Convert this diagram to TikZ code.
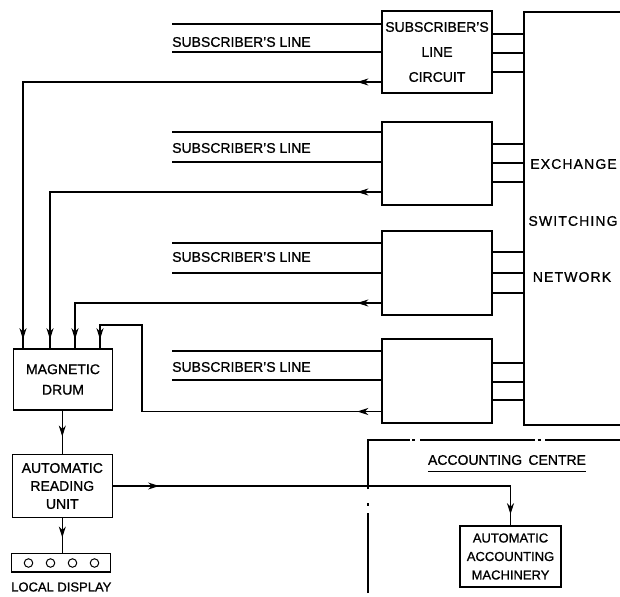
\documentclass[tikz,border=0pt]{standalone}
\usepackage{fontspec}
\setmainfont{Liberation Sans}[FakeBold=0.9]
\newfontfamily\spacedfont{Liberation Sans}[LetterSpace=8,FakeBold=0.9]
\usetikzlibrary{arrows.meta,decorations.markings}
\tikzset{
  box/.style={draw, line width=1.5pt, inner sep=0pt, align=center, font=\fontsize{14}{20}\selectfont},
  lbl/.style={inner sep=0pt, font=\fontsize{14}{17}\selectfont},
  conn/.style={line width=1.1pt},
  bound/.style={line width=1.7pt},
  marr/.style={postaction={decorate}, decoration={markings,
      mark=at position #1 with {\arrow{Stealth[length=11pt,width=7pt,inset=3.5pt]}}}},
  marrtwo/.style 2 args={postaction={decorate}, decoration={markings,
      mark=at position #1 with {\arrow{Stealth[length=11pt,width=7pt,inset=3.5pt]}},
      mark=at position #2 with {\arrow{Stealth[length=11pt,width=7pt,inset=3.5pt]}}}},
}
\begin{document}
\begin{tikzpicture}[x=1pt,y=-1pt]
\useasboundingbox (0,0) rectangle (620,596);
\clip (0,0) rectangle (620,596);

% exchange switching network
\node[draw, line width=1.5pt, inner sep=0pt, anchor=north west,
      minimum width=140pt, minimum height=412.5pt] (net) at (523,11.5) {};
\node[lbl, font=\fontsize{14}{17}\spacedfont] (ex) at (573.5,164) {EXCHANGE};
\node[lbl, font=\fontsize{14}{17}\spacedfont] (sw) at (573,221) {SWITCHING};
\node[lbl, font=\fontsize{14}{17}\spacedfont] (nw) at (572,277) {NETWORK};

% line circuits
\node[box, minimum width=110pt, minimum height=82pt, font=\fontsize{14}{25}\selectfont]
  (b1) at (437,52) {SUBSCRIBER'S\\LINE\\CIRCUIT};
\node[box, minimum width=110pt, minimum height=83pt] (b2) at (437,163.5) {};
\node[box, minimum width=110pt, minimum height=84pt] (b3) at (437,273) {};
\node[box, minimum width=110pt, minimum height=84pt] (b4) at (437,381) {};

% connections to network
\foreach \yy in {34,53,72} \draw[conn] (b1.east |- 0,\yy) -- (net.west |- 0,\yy);
\foreach \yy in {144,163,182} \draw[conn] (b2.east |- 0,\yy) -- (net.west |- 0,\yy);
\foreach \yy in {252,273,293} \draw[conn] (b3.east |- 0,\yy) -- (net.west |- 0,\yy);
\foreach \yy in {363,382,400} \draw[conn] (b4.east |- 0,\yy) -- (net.west |- 0,\yy);

% subscriber's lines
\coordinate (s1a) at (172,24);  \coordinate (s1b) at (172,52);
\coordinate (s2a) at (172,132); \coordinate (s2b) at (172,162);
\coordinate (s3a) at (172,243); \coordinate (s3b) at (172,273);
\coordinate (s4a) at (172,351); \coordinate (s4b) at (172,380);
\draw[conn] (s1a) -- (s1a -| b1.west);
\draw[conn] (s1b) -- (s1b -| b1.west);
\draw[conn] (s2a) -- (s2a -| b2.west);
\draw[conn] (s2b) -- (s2b -| b2.west);
\draw[conn] (s3a) -- (s3a -| b3.west);
\draw[conn] (s3b) -- (s3b -| b3.west);
\draw[conn] (s4a) -- (s4a -| b4.west);
\draw[conn] (s4b) -- (s4b -| b4.west);
\node[lbl, anchor=west] (t1) at (172,42) {SUBSCRIBER'S LINE};
\node[lbl, anchor=west] (t2) at (172,148) {SUBSCRIBER'S LINE};
\node[lbl, anchor=west] (t3) at (172,257) {SUBSCRIBER'S LINE};
\node[lbl, anchor=west] (t4) at (172,367) {SUBSCRIBER'S LINE};

% magnetic drum, reading unit, display
\node[box, minimum width=99.4pt, minimum height=61pt, font=\fontsize{14}{20.5}\selectfont]
  (md) at (63,379.5) {MAGNETIC\\DRUM};
\node[box, minimum width=100pt, minimum height=63.4pt, font=\fontsize{14}{18}\selectfont]
  (aru) at (62.3,486) {AUTOMATIC\\READING\\UNIT};
\node[box, minimum width=99pt, minimum height=18.5pt] (ld) at (61.2,562.5) {};
\foreach \xx/\nn in {28.5/1,50.5/2,72.5/3,94.5/4}
  \node[circle, draw, line width=1pt, inner sep=0pt, minimum size=8.5pt] (ldc\nn) at (\xx,563) {};
\node[lbl, font=\fontsize{13}{16}\selectfont] (ldt) at (61.3,587) {LOCAL DISPLAY};

% return lines to the drum
\coordinate (c1) at (23,82);
\coordinate (c2) at (50,192);
\coordinate (c3) at (75,303);
\coordinate (c4a) at (142,411.5);
\coordinate (c4b) at (100,325);
\draw[conn, marrtwo={24pt}{-9pt}] (b1.west |- c1) -- (c1) -- (c1 |- md.north);
\draw[conn, marrtwo={24pt}{-9pt}] (b2.west |- c2) -- (c2) -- (c2 |- md.north);
\draw[conn, marrtwo={24pt}{-9pt}] (b3.west |- c3) -- (c3) -- (c3 |- md.north);
\draw[conn, marrtwo={24pt}{-9pt}] (b4.west |- c4a) -- (c4a) -- (c4a |- c4b) -- (c4b) -- (c4b |- md.north);

% drum -> reading unit -> display
\draw[conn, marr={-17pt}] (aru.north |- md.south) -- (aru.north);
\draw[conn, marr={-15pt}] (aru.south) -- (aru.south |- ld.north);

% accounting centre
\node[box, minimum width=101pt, minimum height=61pt, font=\fontsize{13}{18.5}\selectfont]
  (aam) at (510.5,556.5) {AUTOMATIC\\ACCOUNTING\\MACHINERY};
\node[lbl] (acc) at (507,460) {ACCOUNTING\hspace{0.45em}CENTRE};
\draw[conn] ([yshift=-6pt]acc.south west) -- ([yshift=-6pt]acc.south east);
\draw[conn, marrtwo={46pt}{-11pt}] (aru.east) -- (aam.north |- aru.east) -- (aam.north);

% dash-dot boundary of the accounting centre
\draw[bound] (368,593) -- (368,513);
\draw[bound] (368,505.5) -- (368,502.5);
\draw[bound] (368,489) -- (368,440) -- (410,440);
\draw[bound] (412,440) -- (415,440);
\draw[bound] (420,440) -- (535,440);
\draw[bound] (537.5,440) -- (540.5,440);
\draw[bound] (545,440) -- (620,440);
\end{tikzpicture}
\end{document}
